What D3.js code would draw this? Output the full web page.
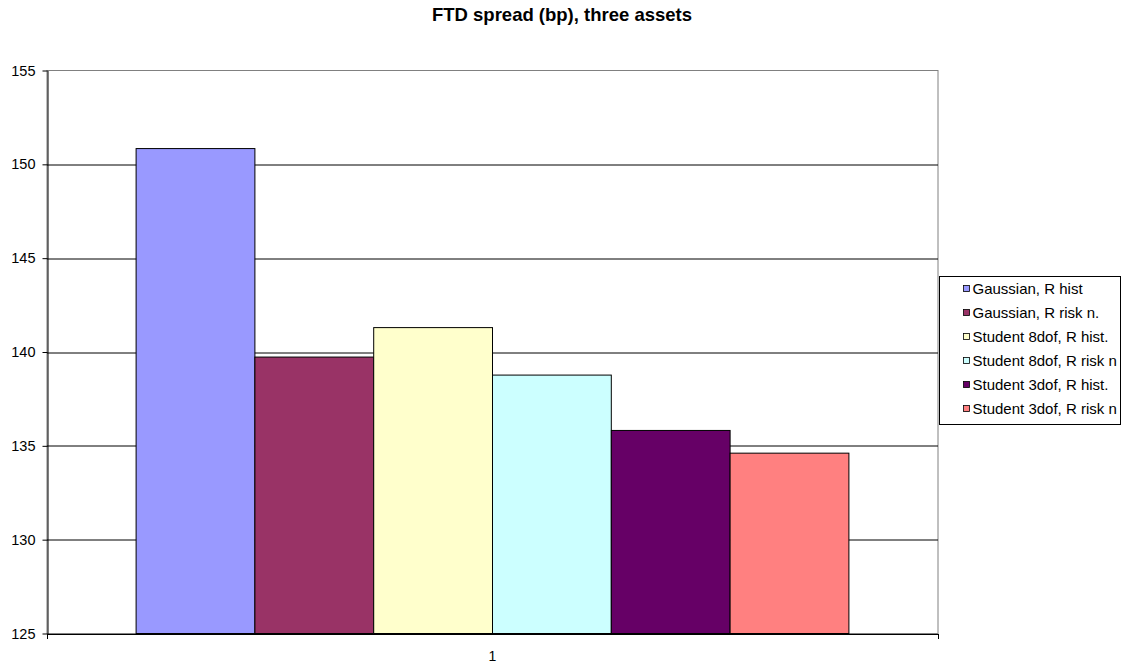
<!DOCTYPE html>
<html>
<head>
<meta charset="utf-8">
<script src="https://cdn.jsdelivr.net/npm/d3@7"></script>
<style>
  body { margin: 0; background: #fff; }
  text { font-family: Arial, "Liberation Sans", sans-serif; }
</style>
</head>
<body>
<div id="chart"></div>
<script>
// data
var categories = ["1"];
var seriesNames = ["Gaussian, R hist", "Gaussian, R risk n.", "Student 8dof, R hist.",
                   "Student 8dof, R risk n", "Student 3dof, R hist.", "Student 3dof, R risk n"];
var seriesValues = [150.84, 139.73, 141.3, 138.77, 135.82, 134.61];
var seriesColors = ["#9999FF", "#993366", "#FFFFCC", "#CCFFFF", "#660066", "#FF8080"];
var yTicks = [125, 130, 135, 140, 145, 150, 155];

var W = 1131, H = 663;
var margin = {top: 70.5, right: 193, bottom: 29.5, left: 47};
var width = W - margin.left - margin.right,
    height = H - margin.top - margin.bottom;

var svg = d3.select("#chart")
  .append("svg")
    .attr("width", W)
    .attr("height", H);

svg.append("text")
  .attr("x", 562)
  .attr("y", 20.5)
  .attr("text-anchor", "middle")
  .style("font-size", "18.5px")
  .style("font-weight", "bold")
  .text("FTD spread (bp), three assets");

var g = svg.append("g")
  .attr("transform", "translate(" + margin.left + "," + margin.top + ")");

var y = d3.scaleLinear().domain([125, 155]).range([height, 0]);
var x0 = d3.scaleBand().domain(categories).range([0, width]).paddingInner(0).paddingOuter(0);
// excel gap width 150%: group = 6 bars, gap = 1.5 bar
var barW = x0.bandwidth() / (seriesNames.length + 1.5);
var x1 = d3.scaleBand().domain(seriesNames)
  .range([0.75 * barW, 0.75 * barW + barW * seriesNames.length]);

// plot area border (gray)
g.append("rect")
  .attr("x", 0).attr("y", 0)
  .attr("width", width).attr("height", height)
  .attr("fill", "none")
  .attr("stroke", "#808080");

// gridlines
g.append("g")
  .selectAll("line")
  .data(yTicks.slice(1, -1))
  .enter()
  .append("line")
    .attr("x1", 0).attr("x2", width)
    .attr("y1", d => Math.round(y(d)) + 0.5)
    .attr("y2", d => Math.round(y(d)) + 0.5)
    .attr("stroke", "#000");

// bars
g.append("g")
  .selectAll("rect")
  .data(seriesValues)
  .enter()
  .append("rect")
    .attr("x", (d, i) => x0(categories[0]) + x1(seriesNames[i]))
    .attr("y", d => y(d))
    .attr("width", x1.bandwidth())
    .attr("height", d => height - y(d))
    .attr("fill", (d, i) => seriesColors[i])
    .attr("stroke", "#000")
    .attr("stroke-width", 1);

// y axis
var yAxis = g.append("g")
  .attr("transform", "translate(0.5,0)")
  .call(d3.axisLeft(y).tickValues(yTicks).tickSize(5).tickPadding(7).tickSizeOuter(0));
yAxis.select(".domain").attr("stroke", "#000");
yAxis.selectAll("text").style("font-size", "14.5px").attr("fill", "#000");

// x axis
var xAxis = g.append("g")
  .attr("transform", "translate(0," + (height + 0.5) + ")")
  .call(d3.axisBottom(x0).tickSize(0).tickPadding(17));
xAxis.select(".domain").attr("stroke", "#000");
xAxis.selectAll("text").style("font-size", "14px").attr("fill", "#000");
xAxis.selectAll(".edge")
  .data([0, width])
  .enter()
  .append("line")
    .attr("x1", d => d + 0.5).attr("x2", d => d + 0.5)
    .attr("y1", 0).attr("y2", 5)
    .attr("stroke", "#000");

// legend
var legend = svg.append("g").attr("transform", "translate(939.5,276.5)");
legend.append("rect")
  .attr("width", 181).attr("height", 148)
  .attr("fill", "#fff").attr("stroke", "#000");
var items = legend.selectAll(".item")
  .data(seriesNames)
  .enter()
  .append("g")
    .attr("transform", (d, i) => "translate(0," + (12 + i * 24) + ")");
items.append("rect")
  .attr("x", 24).attr("y", -3)
  .attr("width", 6).attr("height", 6)
  .attr("fill", (d, i) => seriesColors[i])
  .attr("stroke", "#000")
  .attr("stroke-width", 0.8);
items.append("text")
  .attr("x", 33)
  .attr("dy", "0.35em")
  .style("font-size", "15px")
  .text(d => d);
</script>
</body>
</html>
